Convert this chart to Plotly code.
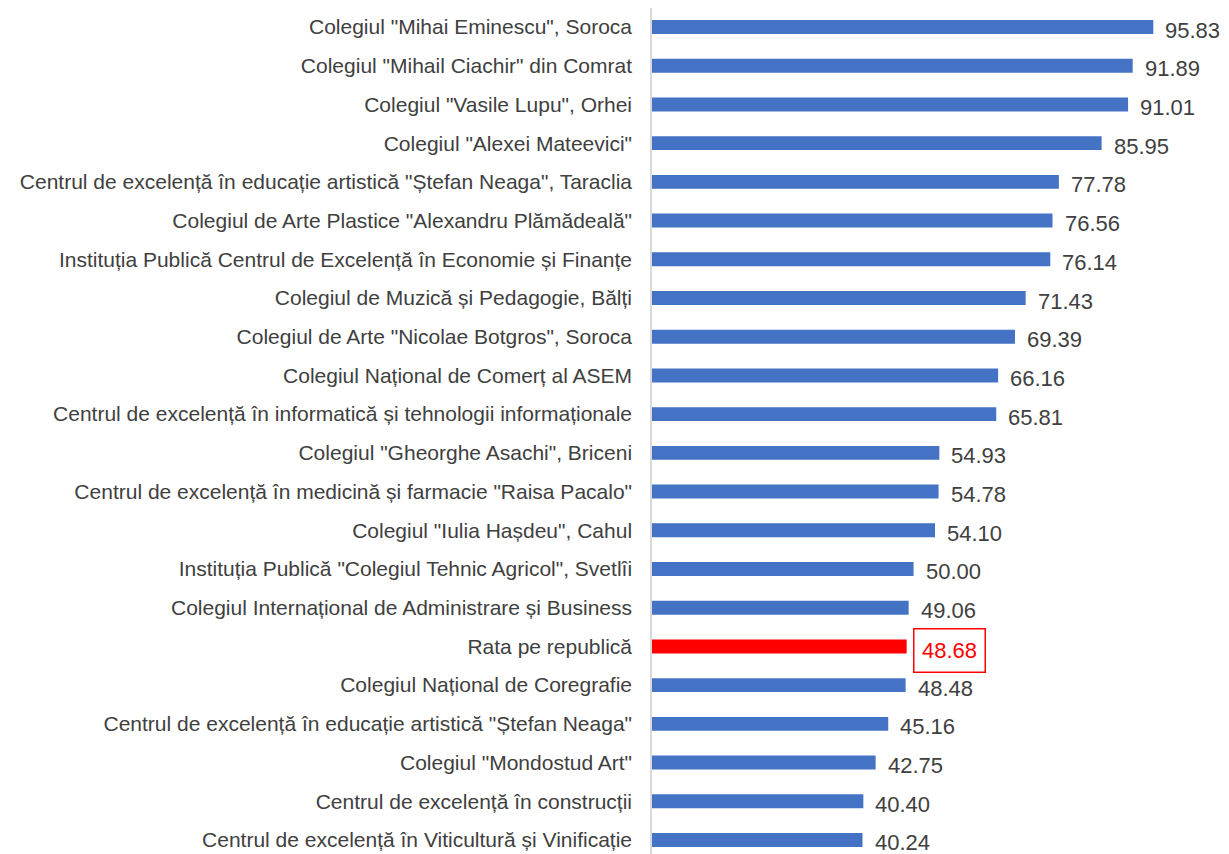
import plotly.graph_objects as go

schools = [
    'Colegiul "Mihai Eminescu", Soroca',
    'Colegiul "Mihail Ciachir" din Comrat',
    'Colegiul "Vasile Lupu", Orhei',
    'Colegiul "Alexei Mateevici"',
    'Centrul de excelență în educație artistică "Ștefan Neaga", Taraclia',
    'Colegiul de Arte Plastice "Alexandru Plămădeală"',
    'Instituția Publică Centrul de Excelență în Economie și Finanțe',
    'Colegiul de Muzică și Pedagogie, Bălți',
    'Colegiul de Arte "Nicolae Botgros", Soroca',
    'Colegiul Național de Comerț al ASEM',
    'Centrul de excelență în informatică și tehnologii informaționale',
    'Colegiul "Gheorghe Asachi", Briceni',
    'Centrul de excelență în medicină și farmacie "Raisa Pacalo"',
    'Colegiul "Iulia Hașdeu", Cahul',
    'Instituția Publică "Colegiul Tehnic Agricol", Svetlîi',
    'Colegiul Internațional de Administrare și Business',
    'Rata pe republică',
    'Colegiul Național de Coregrafie',
    'Centrul de excelență în educație artistică "Ștefan Neaga"',
    'Colegiul "Mondostud Art"',
    'Centrul de excelență în construcții',
    'Centrul de excelență în Viticultură și Vinificație',
]
rates = [95.83, 91.89, 91.01, 85.95, 77.78, 76.56, 76.14, 71.43, 69.39, 66.16,
         65.81, 54.93, 54.78, 54.10, 50.00, 49.06, 48.68, 48.48, 45.16, 42.75,
         40.40, 40.24]
highlight = 'Rata pe republică'

BLUE = '#4472C4'
RED = '#FF0000'
TXT = '#404040'
FONT = 'Liberation Sans, Arial, sans-serif'

colors = [RED if s == highlight else BLUE for s in schools]

fig = go.Figure(go.Bar(
    x=rates, y=schools, orientation='h',
    marker=dict(color=colors, line=dict(width=0)),
    width=0.36,
    hoverinfo='x+y',
))

for s, v in zip(schools, rates):
    if s == highlight:
        fig.add_annotation(x=v, y=s, text=f'{v:.2f}', showarrow=False,
                           xanchor='left', xshift=6, yshift=-4,
                           width=66, height=38,
                           font=dict(family=FONT, size=22, color=RED),
                           bordercolor=RED, borderwidth=1.5, borderpad=2,
                           bgcolor='white')
    else:
        fig.add_annotation(x=v, y=s, text=f'{v:.2f}', showarrow=False,
                           xanchor='left', xshift=10, yshift=-3,
                           font=dict(family=FONT, size=22, color=TXT))

# page body has an 8px margin, so the figure is offset by (8, 8)
fig.update_layout(
    width=1221, height=846,
    margin=dict(l=644, r=0, t=0, b=0),
    paper_bgcolor='white', plot_bgcolor='white',
    showlegend=False,
    xaxis=dict(range=[0, 110.3], visible=False, fixedrange=True),
    yaxis=dict(
        categoryorder='array', categoryarray=schools[::-1],
        range=[-0.362, 21.491],
        showline=True, linecolor='#D9D9D9', linewidth=1.5,
        showgrid=False, ticks='', ticklabelstandoff=14,
        tickfont=dict(family=FONT, size=21, color=TXT),
        fixedrange=True,
    ),
)

fig.write_html('out.html')
